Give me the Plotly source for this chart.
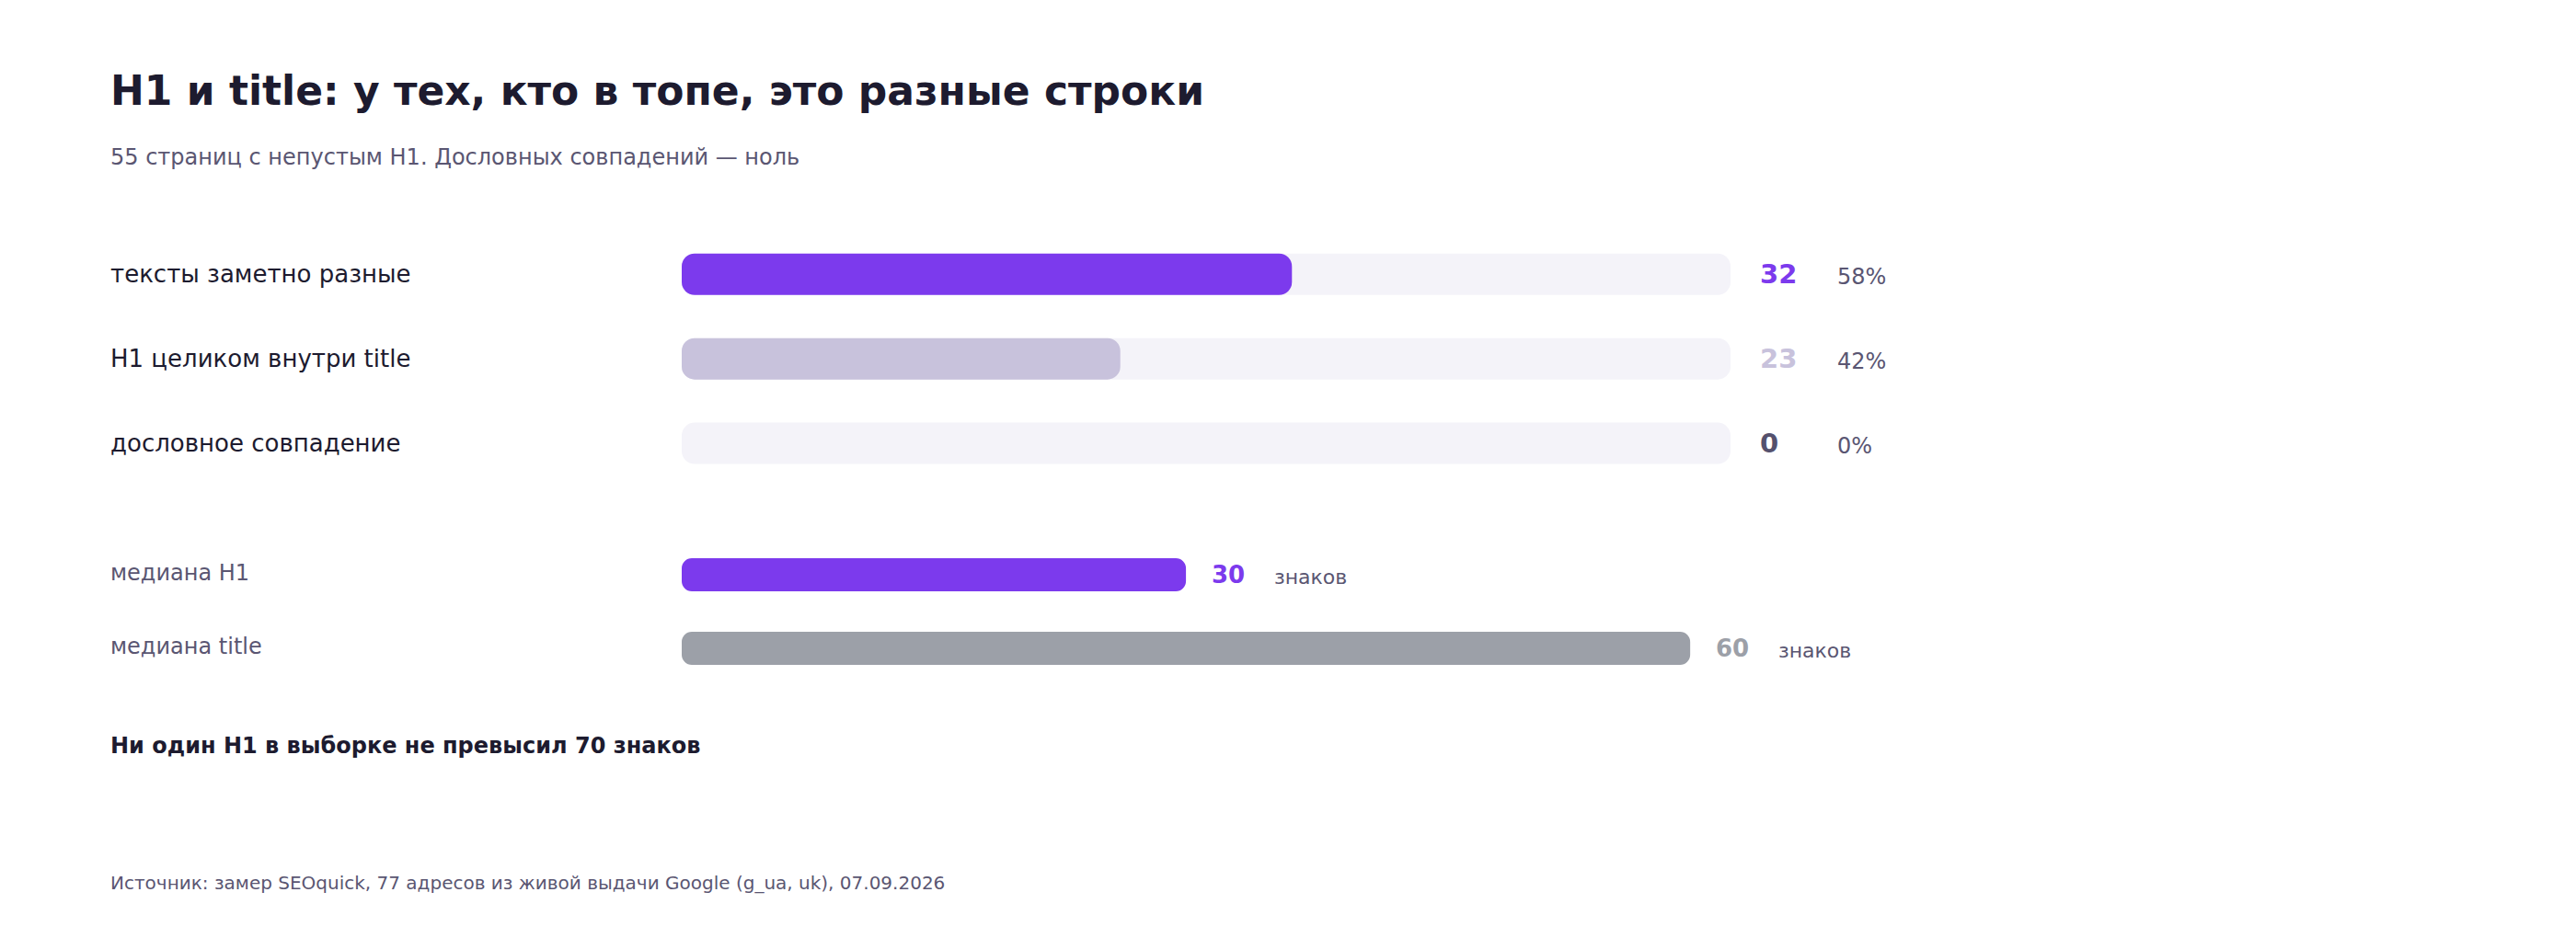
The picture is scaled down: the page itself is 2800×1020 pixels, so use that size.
import plotly.graph_objects as go

# ---------------- data ----------------
categories = ["тексты заметно разные", "H1 целиком внутри title", "дословное совпадение"]
counts = [32, 23, 0]
percents = [58, 42, 0]
total_pages = 55

median_labels = ["медиана H1", "медиана title"]
median_values = [30, 60]
median_unit = "знаков"

title_text = "H1 и title: у тех, кто в топе, это разные строки"
subtitle_text = "55 страниц с непустым H1. Дословных совпадений — ноль"
note_text = "Ни один H1 в выборке не превысил 70 знаков"
source_text = "Источник: замер SEOquick, 77 адресов из живой выдачи Google (g_ua, uk), 07.09.2026"

# ---------------- style ----------------
W, H = 2800, 1020
OFF = 8  # page body margin
FONT = "DejaVu Sans"
DARK = "#1d1b2f"
MUTED = "#5a5672"
PURPLE = "#7c3aed"
LAVENDER = "#c8c2dc"
TRACK = "#f4f3f9"
GREY = "#9ca0a8"
ZERO = "#55516d"
bar_colors = [PURPLE, LAVENDER, TRACK]
value_colors = [PURPLE, LAVENDER, ZERO]
median_colors = [PURPLE, GREY]


def px(x):
    return (x - OFF) / W


def py(y):
    return 1 - (y - OFF) / H


fig = go.Figure()

# tracks (full 55); an explicit base rounds both ends of each bar
fig.add_trace(go.Bar(
    y=categories, x=[total_pages] * len(categories), base=[0] * len(categories),
    orientation="h", width=0.49,
    marker=dict(color=TRACK, cornerradius=14, line=dict(width=0)),
    xaxis="x", yaxis="y", hoverinfo="skip", showlegend=False))
# value bars
fig.add_trace(go.Bar(
    y=categories, x=counts, base=[0] * len(categories), orientation="h", width=0.49,
    marker=dict(color=bar_colors, cornerradius=14, line=dict(width=0)),
    xaxis="x", yaxis="y", hoverinfo="skip", showlegend=False))
# median bars
fig.add_trace(go.Bar(
    y=median_labels, x=median_values, base=[0] * len(median_labels), orientation="h", width=0.45,
    marker=dict(color=median_colors, cornerradius=11, line=dict(width=0)),
    xaxis="x2", yaxis="y2", hoverinfo="skip", showlegend=False))

# ---------------- annotations ----------------
LX = px(118)
ann = []
ann.append(dict(text=f"<b>{title_text}</b>", x=LX, y=py(98), xref="paper", yref="paper",
                xanchor="left", yanchor="middle", showarrow=False,
                font=dict(family=FONT, size=44, color=DARK)))
ann.append(dict(text=subtitle_text, x=LX, y=py(171), xref="paper", yref="paper",
                xanchor="left", yanchor="middle", showarrow=False,
                font=dict(family=FONT, size=24, color=MUTED)))

for cat, v, p, vc in zip(categories, counts, percents, value_colors):
    ann.append(dict(text=cat, x=LX, y=cat, xref="paper", yref="y",
                    xanchor="left", yanchor="middle", showarrow=False,
                    font=dict(family=FONT, size=26, color=DARK)))
    ann.append(dict(text=f"<b>{v}</b>", x=total_pages, y=cat, xref="x", yref="y",
                    xanchor="left", yanchor="middle", showarrow=False, xshift=30,
                    font=dict(family=FONT, size=29, color=vc)))
    ann.append(dict(text=f"{p}%", x=total_pages, y=cat, xref="x", yref="y",
                    xanchor="left", yanchor="middle", showarrow=False, xshift=114, yshift=-3,
                    font=dict(family=FONT, size=24, color=MUTED)))

for lab, v, c in zip(median_labels, median_values, median_colors):
    ann.append(dict(text=lab, x=LX, y=lab, xref="paper", yref="y2",
                    xanchor="left", yanchor="middle", showarrow=False, yshift=2,
                    font=dict(family=FONT, size=24, color=MUTED)))
    ann.append(dict(text=f"<b>{v}</b>", x=v, y=lab, xref="x2", yref="y2",
                    xanchor="left", yanchor="middle", showarrow=False, xshift=26,
                    font=dict(family=FONT, size=26, color=c)))
    ann.append(dict(text=median_unit, x=v, y=lab, xref="x2", yref="y2",
                    xanchor="left", yanchor="middle", showarrow=False, xshift=94, yshift=-2,
                    font=dict(family=FONT, size=22, color=MUTED)))

ann.append(dict(text=f"<b>{note_text}</b>", x=LX, y=py(811), xref="paper", yref="paper",
                xanchor="left", yanchor="middle", showarrow=False,
                font=dict(family=FONT, size=24, color=DARK)))
ann.append(dict(text=source_text, x=LX, y=py(960), xref="paper", yref="paper",
                xanchor="left", yanchor="middle", showarrow=False,
                font=dict(family=FONT, size=20, color=MUTED)))

hidden = dict(visible=False, showgrid=False, zeroline=False, fixedrange=True)

fig.update_layout(
    width=W, height=H,
    margin=dict(l=0, r=0, t=0, b=0),
    paper_bgcolor="white", plot_bgcolor="white",
    barmode="overlay",
    showlegend=False,
    font=dict(family=FONT),
    annotations=ann,
    xaxis=dict(domain=[px(741), px(1881)], range=[0, total_pages], anchor="y", **hidden),
    yaxis=dict(domain=[py(528), py(252.3)], type="category", categoryorder="array",
               categoryarray=categories, range=[len(categories) - 0.5, -0.5], anchor="x", **hidden),
    xaxis2=dict(domain=[px(741), px(1881)], range=[0, 62.4], anchor="y2", **hidden),
    yaxis2=dict(domain=[py(745), py(585)], type="category", categoryorder="array",
                categoryarray=median_labels, range=[len(median_labels) - 0.5, -0.5], anchor="x2", **hidden),
)

fig.write_html("out.html")
